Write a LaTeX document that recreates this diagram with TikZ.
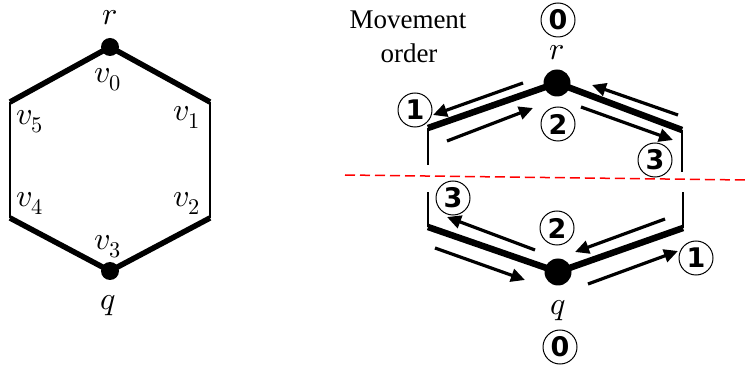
\documentclass[tikz,border=0pt]{standalone}
\usepackage{fontspec}
\usepackage{unicode-math}
\setmainfont{Liberation Serif}
\setmathfont{Latin Modern Math}
\newfontfamily\numfont{DejaVu Sans}
\usetikzlibrary{arrows.meta, positioning}

\tikzset{
  heavy/.style={line width=5.5pt},
  light/.style={line width=1.5pt},
  dot/.style={circle, fill=black, inner sep=0pt, minimum size=#1},
  mlabel/.style={inner sep=0pt, font=\fontsize{32}{34}\selectfont},
  order/.style={circle, draw, line width=1pt, inner sep=0pt, minimum size=34pt,
    font=\numfont\bfseries\fontsize{27}{29}\selectfont},
  move/.style={line width=3.2pt, -{Triangle[length=14pt, width=13pt]}}
}

\begin{document}
\begin{tikzpicture}[x=1pt, y=-1pt]
  \useasboundingbox (0,0) rectangle (745,366);
  % left hexagon
  \coordinate (v0) at (110, 47);
  \coordinate (v1) at (210, 102);
  \coordinate (v2) at (210, 218);
  \coordinate (v3) at (110, 271);
  \coordinate (v4) at (10, 218);
  \coordinate (v5) at (10, 102);
  \draw[heavy] (v5) -- (v0) -- (v1);
  \draw[heavy] (v4) -- (v3) -- (v2);
  \draw[light] (v1) -- (v2) (v5) -- (v4);
  \node[dot=18pt] (r) at (v0) {};
  \node[dot=18pt] (q) at (v3) {};
  \node[mlabel] at (110, 18) {$r$};
  \node[mlabel] at (108, 306) {$q$};
  \node[mlabel] at (108, 80) {$v_0$};
  \node[mlabel] at (187, 117) {$v_1$};
  \node[mlabel] at (187, 203) {$v_2$};
  \node[mlabel] at (108, 247) {$v_3$};
  \node[mlabel] at (30, 203) {$v_4$};
  \node[mlabel] at (30, 122) {$v_5$};

  % right hexagon, cut in two halves
  \coordinate (ul) at (428, 128);
  \coordinate (ur) at (682, 130);
  \coordinate (ll) at (428, 227);
  \coordinate (lr) at (683, 228);
  \coordinate (ul') at (428, 165);
  \coordinate (ur') at (682, 172);
  \coordinate (ll') at (428, 192);
  \coordinate (lr') at (683, 192);
  \draw[light] (ul) -- (ul') (ur) -- (ur') (ll) -- (ll') (lr) -- (lr');
  \draw[heavy, line width=6.5pt] (ul) -- (557, 83) -- (ur);
  \draw[heavy, line width=6.5pt] (ll) -- (558, 272) -- (lr);
  \node[dot=27pt] (top) at (557, 83) {};
  \node[dot=27pt] (bot) at (558, 272) {};
  \draw[red, light, dash pattern=on 10pt off 5pt] (345, 175) -- (745, 180);

  % movements
  \draw[move] (523, 83) -- (433, 115);
  \draw[move] (447, 141) -- (533, 108);
  \draw[move] (581, 107) -- (673, 140);
  \draw[move] (678, 115) -- (592, 85);
  \draw[move] (535, 250) -- (447, 217);
  \draw[move] (665, 219) -- (575, 252);
  \draw[move] (435, 248) -- (525, 280);
  \draw[move] (588, 284) -- (678, 251);

  \node[order] (t0) at (558, 20) {0};
  \node[order] (t1) at (415, 110) {1};
  \node[order] (t2) at (558, 124) {2};
  \node[order] (t3) at (655, 160) {3};
  \node[order] (b3) at (453, 198) {3};
  \node[order] (b2) at (557, 228) {2};
  \node[order] (b1) at (696, 258) {1};
  \node[order] (b0) at (560, 347) {0};
  \node[mlabel] at (557, 53) {$r$};
  \node[mlabel] at (558, 311) {$q$};
  \node[font=\fontsize{27}{30}\selectfont] at (408, 20) {Movement};
  \node[font=\fontsize{27}{30}\selectfont] at (409, 53) {order};
\end{tikzpicture}
\end{document}
